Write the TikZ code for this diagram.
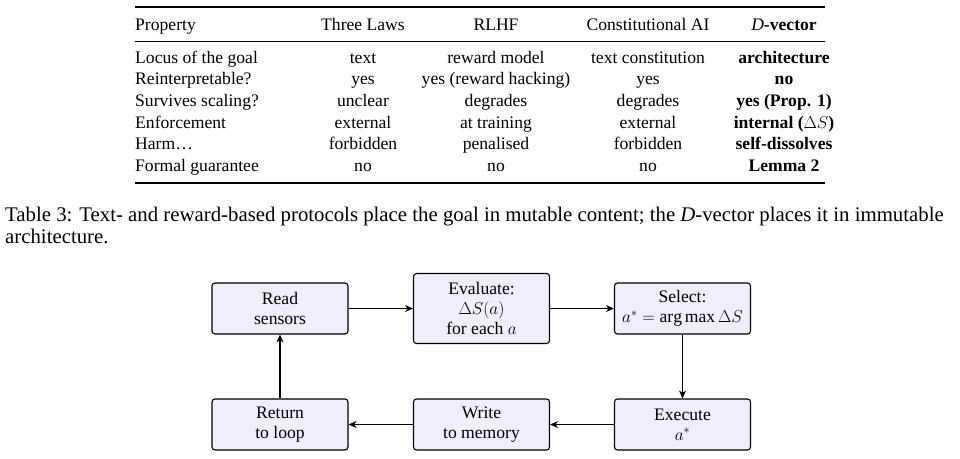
\documentclass[tikz,border=0pt]{standalone}
\usepackage{fontspec}
\setmainfont{Liberation Serif}
\usetikzlibrary{arrows.meta}
\begin{document}
\begin{tikzpicture}[x=1pt,y=-1pt,
  cell/.style={inner sep=0pt,font=\fontsize{17.6}{20}\selectfont,anchor=base},
  lcell/.style={cell,anchor=base west},
  box/.style={draw,line width=1.1pt,rounded corners=3pt,fill={rgb,255:red,238;green,238;blue,252},minimum width=136pt,align=center,inner sep=2pt,font=\fontsize{17.6}{20}\selectfont},
  arr/.style={-{Stealth[length=8pt,width=7pt,inset=2.5pt]},line width=1.1pt},
  captxt/.style={inner sep=0pt,anchor=base west,font=\fontsize{20.8}{24}\selectfont}]
\useasboundingbox (0,0) rectangle (960,458);
% rules
\draw[line width=1.3pt] (135,7) -- (825,7);
\draw[line width=0.8pt] (135,41) -- (825,41);
\draw[line width=1.3pt] (135,183) -- (825,183);
% header
\node[lcell] (h0) at (135,30) {Property};
\node[cell] (h1) at (363,30) {Three Laws};
\node[cell] (h2) at (496,30) {RLHF};
\node[cell] (h3) at (648,30) {Constitutional AI};
\node[cell] (h4) at (784,30) {\textit{D}\textbf{-vector}};
% rows
\foreach \i/\p/\a/\b/\c/\d in {
 1/Locus of the goal/text/reward model/text constitution/architecture,
 2/Reinterpretable?/yes/yes (reward hacking)/yes/no,
 3/Survives scaling?/unclear/degrades/degrades/yes (Prop. 1),
 4/Enforcement/external/at training/external/internal ($\Delta S$),
 5/Harm\dots/forbidden/penalised/forbidden/self-dissolves,
 6/Formal guarantee/no/no/no/Lemma 2}{
 \pgfmathsetmacro\yy{41.7+21.6*\i}
 \node[lcell] (r\i c0) at (135,\yy) {\p};
 \node[cell] (r\i c1) at (363,\yy) {\a};
 \node[cell] (r\i c2) at (496,\yy) {\b};
 \node[cell] (r\i c3) at (648,\yy) {\c};
 \node[cell] (r\i c4) at (784,\yy) {\textbf{\d}};
}
% caption
\node[captxt] (cap1) at (5,221) {Table 3: Text- and reward-based protocols place the goal in mutable content; the \textit{D}-vector places it in immutable};
\node[captxt] (cap2) at (5,243) {architecture.};
% flowchart
\node[box,minimum height=51pt] (read) at (280,308.5) {Read\\sensors};
\node[box,minimum height=70pt] (eval) at (481.5,308.5) {Evaluate:\\$\Delta S(a)$\\for each $a$};
\node[box,minimum height=51pt] (sel) at (682.5,308.5) {Select:\\$a^* = \arg\max \Delta S$};
\node[box,minimum height=51pt] (exec) at (682.5,424.5) {Execute\\$a^*$};
\node[box,minimum height=51pt] (write) at (481.5,424.5) {Write\\to memory};
\node[box,minimum height=51pt] (ret) at (280,424.5) {Return\\to loop};
\draw[arr] (read) -- (eval);
\draw[arr] (eval) -- (sel);
\draw[arr] (sel) -- (exec);
\draw[arr] (exec) -- (write);
\draw[arr] (write) -- (ret);
\draw[arr] (ret) -- (read);
\end{tikzpicture}
\end{document}
